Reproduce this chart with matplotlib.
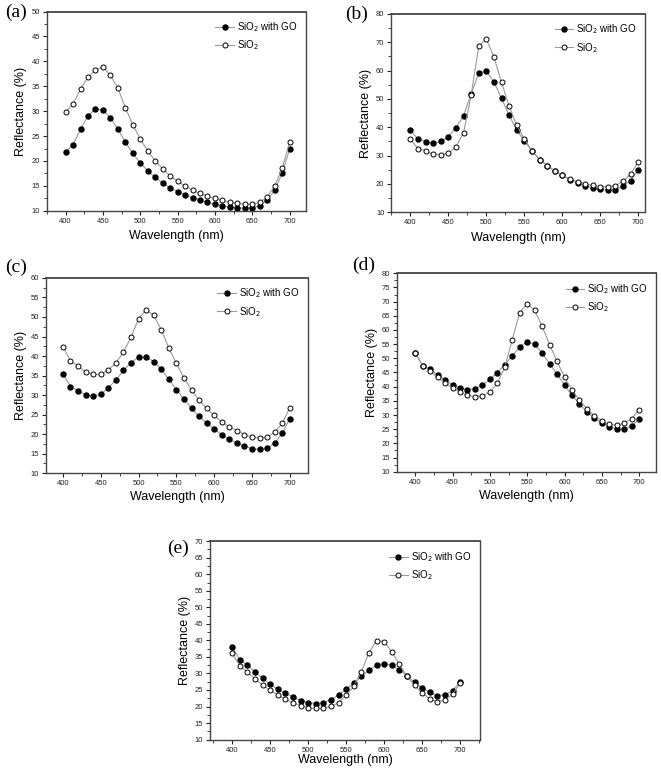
import numpy as np
import matplotlib
matplotlib.use("Agg")
import matplotlib.pyplot as plt
from matplotlib.ticker import MultipleLocator, AutoMinorLocator

wavelength = list(range(400, 701, 10))

# panel (a)
a_go = [21.9, 23.3, 26.4, 29.0, 30.5, 30.2, 28.7, 26.4, 23.8, 21.5, 19.6, 18.0, 16.7, 15.6, 14.6, 13.8,
        13.2, 12.6, 12.1, 11.7, 11.3, 11.0, 10.8, 10.6, 10.5, 10.6, 11.0, 12.1, 14.2, 17.5, 22.4]
a_sio2 = [29.9, 31.4, 34.4, 36.8, 38.3, 38.9, 37.2, 34.6, 30.7, 27.3, 24.4, 22.0, 20.0, 18.4, 17.0, 15.9,
          15.0, 14.1, 13.5, 12.9, 12.5, 12.1, 11.7, 11.5, 11.3, 11.3, 11.7, 12.8, 15.0, 18.5, 23.8]

# panel (b)
b_go = [38.9, 35.9, 34.9, 34.3, 35.0, 36.6, 39.8, 44.0, 51.8, 59.0, 59.9, 56.0, 50.2, 44.3, 39.0, 35.2,
        31.7, 28.6, 26.5, 24.6, 23.1, 21.5, 20.4, 19.4, 18.6, 18.1, 17.8, 18.0, 19.2, 21.2, 25.0]
b_sio2 = [35.8, 32.5, 31.7, 30.5, 30.3, 30.8, 33.1, 38.0, 51.3, 68.5, 71.2, 64.8, 55.9, 47.5, 40.7, 35.9,
          31.7, 28.6, 26.5, 24.6, 23.1, 21.8, 20.8, 20.0, 19.5, 19.1, 19.0, 19.4, 21.0, 23.5, 27.8]

# panel (c)
c_go = [35.4, 32.2, 31.1, 30.1, 29.7, 30.2, 31.9, 33.8, 36.3, 38.3, 39.7, 39.7, 38.6, 36.6, 34.0, 31.4,
        29.0, 26.6, 24.6, 22.8, 21.2, 19.9, 18.7, 17.7, 16.9, 16.3, 16.1, 16.4, 17.7, 20.3, 24.0]
c_sio2 = [42.4, 38.8, 37.4, 35.9, 35.3, 35.3, 36.5, 38.2, 41.0, 44.8, 49.6, 51.8, 50.4, 46.7, 42.1, 38.1,
          34.4, 31.3, 28.7, 26.6, 24.8, 23.1, 21.9, 20.9, 19.9, 19.3, 19.0, 19.3, 20.5, 22.8, 26.8]

# panel (d)
d_go = [52.0, 47.4, 46.1, 44.2, 42.5, 40.6, 39.6, 38.9, 39.3, 40.5, 42.6, 44.9, 47.8, 50.9, 54.0, 55.9,
        54.9, 51.9, 48.1, 44.4, 40.6, 36.9, 33.9, 31.2, 28.8, 27.1, 25.9, 24.9, 24.9, 26.1, 28.5]
d_sio2 = [52.0, 47.4, 45.5, 43.3, 41.4, 39.5, 38.1, 36.9, 36.5, 36.8, 38.1, 41.2, 46.8, 56.6, 66.1, 69.3,
          66.9, 61.3, 54.8, 48.9, 43.3, 38.8, 35.3, 32.2, 29.6, 27.9, 26.7, 26.4, 27.1, 28.7, 31.9]

# panel (e)
e_go = [38.0, 34.2, 32.5, 30.4, 28.5, 26.7, 25.2, 24.0, 22.9, 21.8, 21.2, 20.9, 21.2, 22.0, 23.5, 25.2,
        27.2, 29.1, 31.0, 32.5, 33.0, 32.5, 31.1, 29.3, 27.3, 25.6, 24.3, 23.3, 23.5, 24.7, 27.5]
e_sio2 = [36.2, 32.3, 30.4, 28.3, 26.5, 24.9, 23.5, 22.2, 21.1, 20.3, 19.6, 19.4, 19.4, 20.1, 21.1, 23.4,
          26.1, 30.5, 36.3, 39.9, 39.6, 36.6, 32.8, 29.2, 26.4, 24.0, 22.4, 21.4, 22.0, 23.7, 27.0]

panels = [
    ("(a)", a_go, a_sio2, (10, 50), 5, (375, 722), [0.071, 0.727, 0.392, 0.258], (5, 12), 4),
    ("(b)", b_go, b_sio2, (10, 80), 10, (375, 709), [0.592, 0.725, 0.384, 0.257], (345, 14), 4),
    ("(c)", c_go, c_sio2, (10, 60), 5, (378, 724), [0.070, 0.387, 0.396, 0.253], (5, 267), 3),
    ("(d)", d_go, d_sio2, (10, 80), 5, (376, 723), [0.601, 0.389, 0.392, 0.257], (352, 265), 3),
    ("(e)", e_go, e_sio2, (10, 70), 5, (371, 726), [0.318, 0.042, 0.408, 0.257], (167, 548), 0),
]

W, H = 661, 772
fig = plt.figure(figsize=(W / 100, H / 100), dpi=100)
plt.rcParams['font.family'] = ['Liberation Sans', 'DejaVu Sans']

line_col = "#9a9a9a"
spine_col = "#444444"

for label, go, sio2, ylim, ystep, xlim, rect, lpos, xpad in panels:
    ax = fig.add_axes(rect)
    ax.plot(wavelength, go, '-', color=line_col, lw=0.8, marker='o', ms=3.6,
            mfc='black', mec='black', label='SiO$_2$ with GO', zorder=2)
    ax.plot(wavelength, sio2, '-', color=line_col, lw=0.8, marker='o', ms=3.6,
            mfc='white', mec='black', mew=0.7, label='SiO$_2$', zorder=3)
    ax.set_xlim(*xlim)
    ax.set_ylim(*ylim)
    ax.xaxis.set_major_locator(MultipleLocator(50))
    ax.xaxis.set_minor_locator(MultipleLocator(25))
    ax.yaxis.set_major_locator(MultipleLocator(ystep))
    ax.yaxis.set_minor_locator(AutoMinorLocator(2))
    ax.tick_params(which='both', direction='out', labelsize=5.5, colors='#222222', pad=2)
    ax.tick_params(which='major', length=3, width=0.8)
    ax.tick_params(which='minor', length=2, width=0.6)
    for s in ax.spines.values():
        s.set_color(spine_col)
        s.set_linewidth(1.0)
    ax.spines['top'].set_linewidth(1.3)
    ax.set_xlabel('Wavelength (nm)', fontsize=9, labelpad=xpad)
    ax.set_ylabel('Reflectance (%)', fontsize=9, labelpad=3)
    ax.legend(loc='upper right', frameon=False, fontsize=7, handlelength=1.9,
              handletextpad=0.3, labelspacing=0.45, borderaxespad=0.5)
    fig.text(lpos[0] / W, 1 - lpos[1] / H, label, fontsize=14, family='Liberation Serif',
             ha='left', va='center')

fig.savefig("out.png", dpi=100)
